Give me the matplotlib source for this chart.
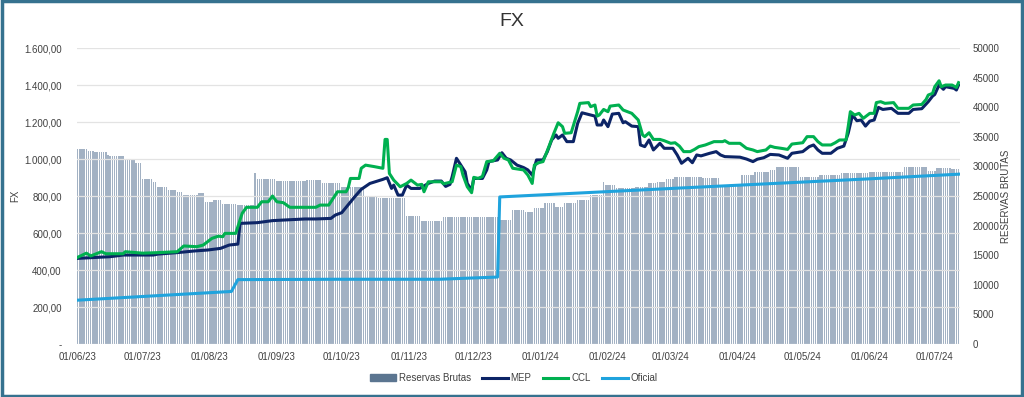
import matplotlib

matplotlib.use("Agg")
import matplotlib.pyplot as plt
import matplotlib.dates as mdates
from matplotlib.lines import Line2D
from matplotlib.patches import Patch, Rectangle
from matplotlib.ticker import FuncFormatter, MultipleLocator
import pandas as pd

plt.rcParams["font.family"] = ["Liberation Sans", "DejaVu Sans"]

# Reservas brutas (USD mn), one value per calendar day
res_jun23 = [32900, 32900, 32900, 32900, 32900, 32650, 32650, 32650, 32380, 32380,
             32380, 32380, 32380, 32380, 32000, 31760, 31760, 31760, 31760, 31760,
             31760, 31760, 31090, 31090, 31090, 31090, 31090, 30630, 30630, 30630]
res_jul23 = [27820, 27820, 27820, 27820, 27820, 27410, 27410, 26470, 26470, 26470,
             26470, 26470, 26010, 26010, 26010, 26010, 25740, 25740, 25740, 25170,
             25170, 25170, 25170, 25170, 25170, 25170, 25560, 25560, 25560, 24040, 24040]
res_aug23 = [24040, 24040, 24320, 24320, 24320, 24320, 23650, 23650, 23650, 23650,
             23650, 23650, 23650, 23480, 23480, 23480, 23480, 23480, 23480, 23480,
             23480, 28940, 27820, 27820, 27820, 27820, 27820, 27820, 27820, 27820, 27820]
res_sep23 = [27590, 27590, 27590, 27590, 27590, 27590, 27590, 27590, 27590, 27590,
             27590, 27590, 27590, 27590, 27700, 27700, 27700, 27700, 27700, 27700,
             27700, 27250, 27250, 27250, 27250, 27250, 27250, 27250, 27250, 27250]
res_oct23 = [26470, 26470, 26470, 26470, 26470, 26470, 26470, 26470, 26470, 26470,
             26470, 25000, 25000, 25000, 25000, 25000, 25000, 24600, 24600, 24600,
             24600, 24600, 24600, 24600, 24600, 24600, 24600, 24600, 24600, 24600, 21680]
res_nov23 = [21680, 21680, 21680, 21680, 21680, 21680, 20770, 20770, 20770, 20770,
             20770, 20770, 20770, 20770, 20770, 20770, 21450, 21450, 21450, 21450,
             21450, 21450, 21450, 21450, 21450, 21450, 21450, 21450, 21450, 21450]
res_dec23 = [21450, 21450, 21450, 21450, 21450, 21450, 21450, 21450, 21450, 21450,
             21450, 21450, 20950, 20950, 20950, 20950, 20950, 20950, 22620, 22620,
             22620, 22620, 22620, 22620, 22340, 22340, 22340, 22340, 22910, 22910, 22910]
res_jan24 = [22910, 22910, 23760, 23760, 23760, 23760, 23760, 23190, 23190, 23190,
             23190, 23870, 23870, 23870, 23870, 23870, 23870, 24320, 24320, 24320,
             24320, 24320, 24320, 25170, 25170, 25170, 25170, 25170, 25170, 27410, 26850]
res_feb24 = [26850, 26850, 26850, 26850, 26290, 26290, 26290, 26290, 26290, 26290,
             26290, 26290, 26290, 26560, 26560, 26560, 26560, 26560, 26560, 27130,
             27130, 27130, 27130, 27410, 27410, 27410, 27410, 27820, 27820]
res_mar24 = [27820, 27820, 28160, 28160, 28160, 28160, 28160, 28160, 28160, 28160,
             28160, 28160, 28160, 28160, 28160, 27980, 27980, 27980, 27980, 27980,
             27980, 27980, 27980, 26800, 26800, 26800, 26800, 26800, 26800, 26800, 26800]
res_apr24 = [26800, 26800, 28540, 28540, 28540, 28540, 28540, 28540, 29100, 29100,
             29100, 29100, 29100, 29100, 29100, 29390, 29390, 29390, 29900, 29900,
             29900, 29900, 29900, 29900, 29900, 29900, 29900, 29900, 29900, 28260]
res_may24 = [28260, 28260, 28260, 28260, 28260, 28260, 28260, 28260, 28540, 28540,
             28540, 28540, 28540, 28540, 28540, 28540, 28540, 28540, 28830, 28830,
             28830, 28830, 28830, 28830, 28830, 28830, 28830, 28830, 28830, 28830, 28830]
res_jun24 = [29100, 29100, 29100, 29100, 29100, 29100, 29100, 29100, 29100, 29100,
             29100, 29100, 29100, 29100, 29100, 29100, 29850, 29850, 29850, 29850,
             29850, 29850, 29850, 29850, 29850, 29850, 29850, 29180, 29180, 29180]
res_jul24 = [29180, 29770, 29770, 29770, 29770, 29770, 29770, 29770, 29500, 29500,
             29500, 29500]

reservas = (res_jun23 + res_jul23 + res_aug23 + res_sep23 + res_oct23 + res_nov23
            + res_dec23 + res_jan24 + res_feb24 + res_mar24 + res_apr24 + res_may24
            + res_jun24 + res_jul24)
res_dates = pd.date_range("2023-06-01", periods=len(reservas), freq="D")

# FX series: days since 01/06/23 and value
ccl_day = [0, 4, 6, 11, 13, 21, 22, 30, 37, 46, 49, 55, 58, 62, 65, 67, 68, 73, 74, 76,
           78, 83, 85, 88, 90, 92, 95, 98, 103, 110, 112, 116, 118, 120, 124, 125, 126,
           130, 131, 133, 137, 141, 142, 143, 144, 146, 149, 152, 154, 157, 159, 160,
           162, 168, 169, 173, 175, 177, 178, 180, 182, 183, 185, 187, 189, 192, 195,
           197, 199, 201, 206, 208, 210, 211, 213, 215, 218, 220, 222, 224, 225, 228,
           231, 232, 236, 237, 239, 240, 241, 243, 245, 246, 250, 252, 256, 259, 261,
           262, 264, 266, 269, 271, 274, 276, 278, 280, 283, 285, 287, 290, 294, 298,
           299, 301, 306, 309, 312, 314, 318, 320, 322, 325, 328, 330, 335, 337, 340,
           342, 344, 348, 350, 352, 355, 356, 357, 359, 361, 363, 366, 368, 369, 371,
           373, 377, 379, 384, 386, 390, 392, 393, 395, 396, 398, 399, 401, 404, 406, 407]
ccl = [469, 491, 476, 499, 488, 488, 499, 491, 494, 499, 530, 526, 535, 571, 583, 580,
       598, 598, 634, 707, 739, 739, 769, 769, 800, 769, 764, 739, 739, 739, 751, 751,
       787, 823, 823, 845, 895, 895, 950, 967, 959, 950, 1106, 1106, 922, 886, 850, 868,
       886, 859, 863, 823, 877, 877, 866, 877, 967, 959, 913, 850, 818, 901, 895, 906,
       986, 990, 1031, 1004, 995, 950, 941, 913, 868, 967, 980, 986, 1076, 1139, 1196,
       1175, 1139, 1142, 1256, 1301, 1305, 1283, 1292, 1232, 1238, 1268, 1256, 1286,
       1292, 1265, 1247, 1211, 1130, 1121, 1142, 1106, 1106, 1099, 1085, 1088, 1070,
       1040, 1040, 1052, 1067, 1076, 1094, 1094, 1099, 1085, 1085, 1058, 1049, 1040,
       1049, 1070, 1063, 1058, 1052, 1081, 1088, 1121, 1121, 1094, 1076, 1076, 1088,
       1103, 1103, 1175, 1256, 1238, 1247, 1220, 1247, 1247, 1305, 1310, 1301, 1305,
       1274, 1274, 1292, 1295, 1322, 1346, 1355, 1391, 1423, 1391, 1400, 1400, 1387, 1413]

mep_day = [0, 15, 21, 35, 37, 46, 54, 60, 66, 70, 74, 75, 83, 90, 105, 110, 117, 119,
           122, 128, 131, 135, 141, 143, 145, 146, 148, 150, 152, 154, 158, 162, 165,
           168, 170, 172, 173, 175, 177, 179, 180, 182, 183, 187, 189, 190, 194, 196,
           198, 200, 203, 206, 208, 210, 212, 215, 217, 219, 221, 222, 224, 226, 229,
           231, 233, 236, 239, 240, 242, 243, 245, 247, 250, 252, 253, 256, 259, 260,
           262, 264, 266, 269, 271, 275, 277, 279, 282, 284, 286, 288, 292, 295, 297,
           299, 306, 309, 312, 314, 317, 320, 324, 328, 330, 335, 338, 340, 342, 344,
           348, 351, 354, 356, 358, 360, 362, 364, 366, 368, 370, 372, 376, 379, 384,
           386, 390, 393, 395, 396, 398, 400, 401, 405, 406, 407]
mep = [463, 472, 481, 481, 486, 494, 503, 508, 517, 535, 540, 652, 656, 667, 676, 676,
       679, 697, 710, 796, 836, 868, 890, 899, 841, 859, 805, 805, 859, 841, 841, 868,
       881, 881, 852, 863, 904, 1004, 967, 931, 868, 832, 895, 895, 941, 986, 995, 1034,
       1004, 995, 967, 954, 941, 913, 995, 995, 1040, 1103, 1130, 1112, 1130, 1094,
       1094, 1193, 1250, 1241, 1232, 1184, 1184, 1211, 1175, 1243, 1247, 1196, 1202,
       1178, 1175, 1076, 1067, 1103, 1049, 1085, 1058, 1058, 1022, 977, 1004, 980, 1022,
       1017, 1031, 1040, 1022, 1013, 1010, 1000, 986, 999, 1007, 1025, 1022, 1004, 1031,
       1040, 1067, 1076, 1049, 1031, 1031, 1058, 1070, 1139, 1238, 1207, 1211, 1178,
       1205, 1211, 1279, 1268, 1274, 1247, 1247, 1268, 1272, 1310, 1340, 1349, 1400,
       1377, 1391, 1382, 1373, 1400]

oficial_day = [0, 71, 74, 120, 167, 194, 195, 278, 366, 407]
oficial = [237, 284, 348, 350, 350, 362, 795, 843, 893, 918]

start = pd.Timestamp("2023-06-01")
ccl_dates = start + pd.to_timedelta(ccl_day, unit="D")
mep_dates = start + pd.to_timedelta(mep_day, unit="D")
of_dates = start + pd.to_timedelta(oficial_day, unit="D")

C_BAR = "#a2b1c3"
C_MEP = "#0c2466"
C_CCL = "#00b050"
C_OF = "#1fa3dd"
C_TXT = "#404040"

fig = plt.figure(figsize=(10.24, 3.97), dpi=100)
ax = fig.add_axes([0.0752, 0.1335, 0.8623, 0.7455])
ax2 = ax.twinx()
ax.set_zorder(2)
ax2.set_zorder(1)
ax.patch.set_visible(False)

ax2.bar(res_dates, reservas, width=0.7, color=C_BAR, linewidth=0)
ax.plot(mep_dates, mep, color=C_MEP, lw=2.2, solid_joinstyle="round")
ax.plot(ccl_dates, ccl, color=C_CCL, lw=2.2, solid_joinstyle="round")
ax.plot(of_dates, oficial, color=C_OF, lw=2.2)

ax.set_ylim(0, 1600)
ax2.set_ylim(0, 50000)
ax.set_xlim(start - pd.Timedelta(hours=8), res_dates[-1] + pd.Timedelta(hours=16))

ax.yaxis.set_major_locator(MultipleLocator(200))
ax.yaxis.set_major_formatter(FuncFormatter(
    lambda v, p: "-" if v == 0 else f"{v:,.2f}".replace(",", "X").replace(".", ",").replace("X", ".")))
ax2.yaxis.set_major_locator(MultipleLocator(5000))

ax.xaxis.set_major_locator(mdates.MonthLocator(bymonthday=1))
ax.xaxis.set_major_formatter(mdates.DateFormatter("%d/%m/%y"))

ax.grid(axis="y", color="#e3e3e3", lw=0.9)
for a in (ax, ax2):
    for s in a.spines.values():
        s.set_visible(False)
    a.tick_params(length=0, labelsize=7, colors=C_TXT)
ax.tick_params(axis="y", pad=11)
ax.tick_params(axis="x", pad=6)
ax2.tick_params(axis="y", pad=9)

ax.set_ylabel("FX", fontsize=7, color=C_TXT)
ax.yaxis.set_label_coords(-0.064, 0.5)
ax2.set_ylabel("RESERVAS BRUTAS", fontsize=7, color=C_TXT)
ax2.yaxis.set_label_coords(1.046, 0.5)
fig.text(0.5, 0.945, "FX", ha="center", va="center", fontsize=14, color="#333333")

handles = [Patch(color="#5b7590", label="Reservas Brutas"),
           Line2D([], [], color=C_MEP, lw=2.2, label="MEP"),
           Line2D([], [], color=C_CCL, lw=2.2, label="CCL"),
           Line2D([], [], color=C_OF, lw=2.2, label="Oficial")]
fig.legend(handles=handles, loc="center", bbox_to_anchor=(0.502, 0.048), ncol=4,
           frameon=False, fontsize=7, handlelength=2.6, handleheight=0.6,
           columnspacing=1.2, handletextpad=0.3, labelcolor=C_TXT)

fig.patches.append(Rectangle((0.0015, 0.003), 0.997, 0.994, transform=fig.transFigure,
                             fill=False, edgecolor="#36728f", lw=2.5))

fig.savefig("out.png", dpi=100)
